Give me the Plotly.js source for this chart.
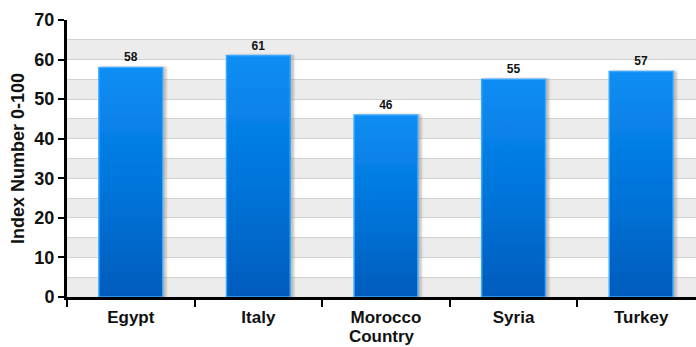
<!DOCTYPE html>
<html>
<head>
<meta charset="utf-8">
<script src="https://cdn.plot.ly/plotly-3.0.1.min.js"></script>
<style>
  html, body { margin: 0; padding: 0; background: #ffffff; }
  #chart { width: 696px; height: 347px; }
</style>
</head>
<body>
<div id="chart"></div>
<script>
// Country index values (0-100 scale)
const countries = ["Egypt", "Italy", "Morocco", "Syria", "Turkey"];
const indexValues = [58, 61, 46, 55, 57];

// y-axis settings
const yMax = 70;
const yStep = 10;

// alternating light-gray bands in the lower half of each 10-unit step
const bands = [];
for (let v = 0; v < yMax; v += yStep) {
  bands.push({
    type: "rect", xref: "paper", yref: "y",
    x0: 0, x1: 1, y0: v, y1: v + yStep / 2,
    fillcolor: "#ececec", line: { width: 0 }, layer: "below"
  });
}

const font = "Liberation Sans, Arial, sans-serif";

const trace = {
  type: "bar",
  x: countries,
  y: indexValues,
  width: 0.5,
  marker: { color: "#0a8cf0", line: { color: "#39a8ff", width: 1.5 } },
  text: indexValues.map(String),
  textposition: "outside",
  textfont: { family: font, size: 12, color: "#111111", weight: "bold" },
  cliponaxis: false,
  hoverinfo: "none"
};

const layout = {
  width: 696,
  height: 347,
  margin: { l: 67, r: 0, t: 20, b: 50 },
  paper_bgcolor: "#ffffff",
  plot_bgcolor: "#ffffff",
  showlegend: false,
  shapes: bands,
  xaxis: {
    type: "category",
    range: [-0.5, 4.43],
    tickson: "boundaries",
    ticks: "outside",
    ticklen: 7,
    tickwidth: 2,
    tickcolor: "#000000",
    showline: true,
    linecolor: "#000000",
    linewidth: 2.5,
    showgrid: false,
    zeroline: false,
    ticklabelstandoff: 3,
    tickfont: { family: font, size: 17, color: "#111111", weight: "bold" },
    title: { text: "Country", font: { family: font, size: 17, color: "#111111", weight: "bold" }, standoff: 3 }
  },
  yaxis: {
    range: [0, yMax],
    dtick: yStep,
    ticks: "outside",
    ticklen: 6,
    tickwidth: 2,
    tickcolor: "#000000",
    showline: true,
    linecolor: "#000000",
    linewidth: 3,
    showgrid: true,
    gridcolor: "#d2d2d2",
    gridwidth: 1,
    zeroline: false,
    minor: { dtick: yStep / 2, showgrid: true, gridcolor: "#d2d2d2", gridwidth: 1, ticks: "" },
    tickfont: { family: font, size: 18, color: "#111111", weight: "bold" },
    title: { text: "Index Number 0-100", font: { family: font, size: 18, color: "#111111", weight: "bold" }, standoff: 6 }
  }
};

Plotly.newPlot("chart", [trace], layout, { staticPlot: true, displayModeBar: false }).then(function (gd) {
  // vertical blue gradient with a soft right-hand shadow on each bar
  const svgNS = "http://www.w3.org/2000/svg";
  const svg = gd.querySelector(".main-svg");
  let defs = svg.querySelector("defs");
  if (!defs) { defs = document.createElementNS(svgNS, "defs"); svg.insertBefore(defs, svg.firstChild); }

  const grad = document.createElementNS(svgNS, "linearGradient");
  grad.setAttribute("id", "barGradient");
  grad.setAttribute("x1", "0"); grad.setAttribute("y1", "0");
  grad.setAttribute("x2", "0"); grad.setAttribute("y2", "1");
  [["0", "#0b8ef4"], ["0.5", "#0376dc"], ["1", "#005cbc"]].forEach(function (s) {
    const stop = document.createElementNS(svgNS, "stop");
    stop.setAttribute("offset", s[0]);
    stop.setAttribute("stop-color", s[1]);
    grad.appendChild(stop);
  });
  defs.appendChild(grad);

  const filt = document.createElementNS(svgNS, "filter");
  filt.setAttribute("id", "barShadow");
  filt.setAttribute("x", "-10%"); filt.setAttribute("y", "-10%");
  filt.setAttribute("width", "130%"); filt.setAttribute("height", "120%");
  const shadow = document.createElementNS(svgNS, "feDropShadow");
  shadow.setAttribute("dx", "3"); shadow.setAttribute("dy", "0");
  shadow.setAttribute("stdDeviation", "1.2");
  shadow.setAttribute("flood-color", "#8a7a6a");
  shadow.setAttribute("flood-opacity", "0.45");
  filt.appendChild(shadow);
  defs.appendChild(filt);

  gd.querySelectorAll(".barlayer .point path").forEach(function (p) {
    p.style.fill = "url(#barGradient)";
    p.setAttribute("filter", "url(#barShadow)");
  });
});
</script>
</body>
</html>
